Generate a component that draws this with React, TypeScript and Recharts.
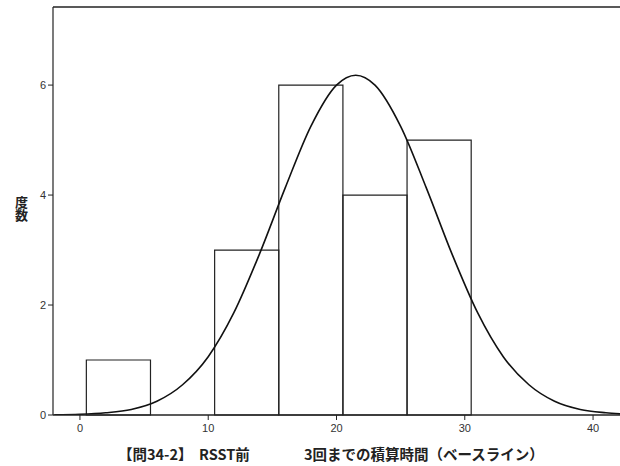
import {
  ComposedChart,
  Line,
  ReferenceArea,
  ReferenceLine,
  XAxis,
  YAxis,
} from "recharts";

// histogram bins (left edge, right edge, count)
const binStart = [0.5, 5.5, 10.5, 15.5, 20.5, 25.5];
const binEnd = [5.5, 10.5, 15.5, 20.5, 25.5, 30.5];
const binCount = [1, 0, 3, 6, 4, 5];

// fitted normal curve
const curveX = [-2, 0, 2, 4, 6, 8, 10, 12, 14, 16, 18, 20, 21.5, 23, 25, 27, 29, 31, 33, 35, 37, 39, 41, 42.1];
const curveY = [0.004, 0.013, 0.04, 0.1, 0.25, 0.55, 1.06, 1.86, 2.93, 4.13, 5.25, 6.0, 6.18, 6.0, 5.25, 4.13, 2.93, 1.86, 1.06, 0.55, 0.25, 0.1, 0.04, 0.02];

const xTicks = [0, 10, 20, 30, 40];
const yTicks = [0, 2, 4, 6];
const xDomain = [-2.1, 42.1];
const yDomain = [0, 7.42];

const yLabel = "度数";
const xLabelParts = ["【問34-2】", "RSST前", "3回までの積算時間（ベースライン）"];

const curve = curveX.map((x, i) => ({ x, y: curveY[i] }));

export default function App() {
  const ink = "#222";
  const tickStyle = { fill: "#333", fontSize: 11, fontFamily: "Liberation Sans, Arial, sans-serif" };

  return (
    <div style={{ position: "absolute", left: 0, top: 0, width: 620, height: 466, background: "#fff" }}>
      <ComposedChart
        width={620}
        height={466}
        data={curve}
        margin={{ top: 7, right: 0, bottom: 0, left: 0 }}
      >
        <XAxis
          dataKey="x"
          type="number"
          domain={xDomain}
          ticks={xTicks}
          height={51}
          tickSize={5}
          tickMargin={4}
          tick={tickStyle}
          axisLine={{ stroke: ink, strokeWidth: 1.5 }}
          tickLine={{ stroke: ink }}
          allowDataOverflow
        />
        <YAxis
          type="number"
          domain={yDomain}
          ticks={yTicks}
          width={53}
          tickSize={5}
          tickMargin={2}
          tick={tickStyle}
          axisLine={{ stroke: ink, strokeWidth: 1.2 }}
          tickLine={{ stroke: ink }}
          allowDataOverflow
        />
        <ReferenceLine y={yDomain[1]} stroke={ink} strokeWidth={1.5} />
        {binCount.map((c, i) =>
          c > 0 ? (
            <ReferenceArea
              key={i}
              x1={binStart[i]}
              x2={binEnd[i]}
              y1={0}
              y2={c}
              fill="none"
              stroke={ink}
              strokeWidth={1.2}
            />
          ) : null
        )}
        <Line
          type="monotone"
          dataKey="y"
          stroke="#111"
          strokeWidth={1.6}
          dot={false}
          isAnimationActive={false}
        />
      </ComposedChart>

      {/* y axis title, stacked vertically */}
      <div
        style={{
          position: "absolute",
          left: 12,
          top: 196,
          width: 16,
          fontFamily: "Noto Sans CJK JP, sans-serif",
          fontWeight: 700,
          fontSize: 13,
          lineHeight: "13px",
          color: "#222",
          textAlign: "center",
          writingMode: "vertical-rl",
        }}
      >
        {yLabel}
      </div>

      {/* x axis title */}
      {xLabelParts.map((t, i) => (
        <div
          key={t}
          style={{
            position: "absolute",
            left: [118, 199, 304][i],
            top: 445,
            fontFamily: "Noto Sans CJK JP, sans-serif",
            fontWeight: 700,
            fontSize: 14.5,
            lineHeight: "18px",
            color: "#222",
            whiteSpace: "nowrap",
          }}
        >
          {t}
        </div>
      ))}
    </div>
  );
}
